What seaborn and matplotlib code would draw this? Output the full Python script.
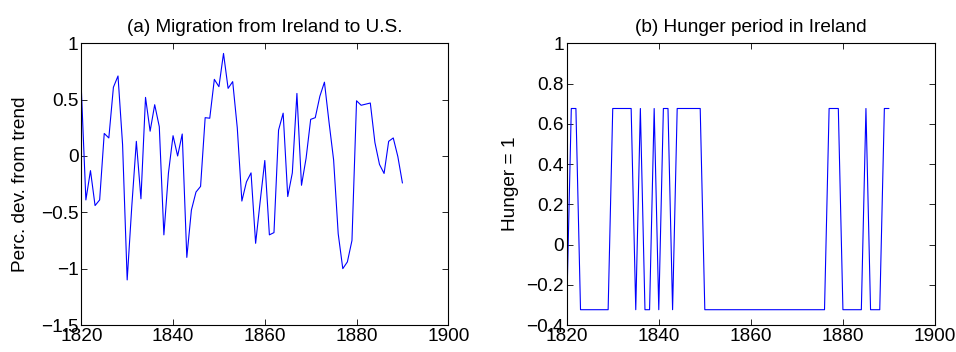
import numpy as np
import pandas as pd
import matplotlib
matplotlib.use("Agg")
import matplotlib.pyplot as plt
import seaborn as sns

years = list(range(1820, 1891))
migration = [0.6, -0.39, -0.13, -0.44, -0.39, 0.20, 0.16, 0.61, 0.71, 0.1,
             -1.10, -0.45, 0.13, -0.38, 0.52, 0.22, 0.455, 0.26, -0.70, -0.15,
             0.18, 0.0, 0.195, -0.90, -0.48, -0.32, -0.27, 0.34, 0.335, 0.68,
             0.615, 0.91, 0.60, 0.66, 0.25, -0.40, -0.23, -0.15, -0.775, -0.4,
             -0.04, -0.70, -0.68, 0.23, 0.38, -0.36, -0.15, 0.555, -0.26, -0.02,
             0.325, 0.34, 0.53, 0.655, 0.3, -0.035, -0.69, -1.0, -0.94, -0.75,
             0.49, 0.45, 0.46, 0.47, 0.12, -0.075, -0.155, 0.13, 0.16, -0.005,
             -0.24]
H, L = 0.676, -0.324
hunger = [L, H, H, L, L, L, L, L, L, L,
          H, H, H, H, H, L, H, L, L, H,
          L, H, H, L, H, H, H, H, H, H,
          L, L, L, L, L, L, L, L, L, L,
          L, L, L, L, L, L, L, L, L, L,
          L, L, L, L, L, L, L, H, H, H,
          L, L, L, L, L, H, L, L, L, H,
          H]

titles = ["(a) Migration from Ireland to U.S.", "(b) Hunger period in Ireland"]
ylabels = ["Perc. dev. from trend", "Hunger = 1"]
xticks = [1820, 1840, 1860, 1880, 1900]

sns.set_theme(style="white")
plt.rcParams['font.family'] = ['Liberation Sans', 'DejaVu Sans']
plt.rcParams['axes.unicode_minus'] = True

FS = 13.7
fig = plt.figure(figsize=(9.56, 3.52), dpi=100)
W, Hh = 956, 352
ax1 = fig.add_axes([81.3 / W, 1 - 325 / Hh, (448.3 - 81.3) / W, (325 - 43.3) / Hh])
ax2 = fig.add_axes([566.7 / W, 1 - 325 / Hh, (935 - 566.7) / W, (325 - 43.3) / Hh])

df = pd.DataFrame({"year": years, "migration": migration, "hunger": hunger})
sns.lineplot(data=df, x="year", y="migration", ax=ax1, color=(0, 0, 1), linewidth=0.8)
sns.lineplot(data=df, x="year", y="hunger", ax=ax2, color=(0, 0, 1), linewidth=0.8)

ax1.set_ylim(-1.5, 1)
ax1.set_yticks([-1.5, -1, -0.5, 0, 0.5, 1])
ax1.set_yticklabels(["\u22121.5", "\u22121", "\u22120.5", "0", "0.5", "1"])
ax2.set_ylim(-0.4, 1)
ax2.set_yticks([-0.4, -0.2, 0, 0.2, 0.4, 0.6, 0.8, 1])
ax2.set_yticklabels(["\u22120.4", "\u22120.2", "0", "0.2", "0.4", "0.6", "0.8", "1"])

for ax, t, yl, lp in zip([ax1, ax2], titles, ylabels, [9, 5]):
    ax.set_xlim(1820, 1900)
    ax.set_xticks(xticks)
    ax.set_xticklabels([str(x) for x in xticks])
    ax.set_title(t, fontsize=FS, color="black", pad=8)
    ax.set_xlabel("")
    ax.set_ylabel(yl, fontsize=FS, color="black", labelpad=lp)
    ax.tick_params(axis="both", direction="in", length=4, width=0.6, labelsize=FS,
                   colors="black", pad=2, top=True, right=True, bottom=True, left=True)
    for s in ax.spines.values():
        s.set_visible(True)
        s.set_color("black")
        s.set_linewidth(0.8)
    ax.grid(False)
    ax.set_facecolor("white")

fig.savefig("out.png", dpi=100, facecolor="white")
